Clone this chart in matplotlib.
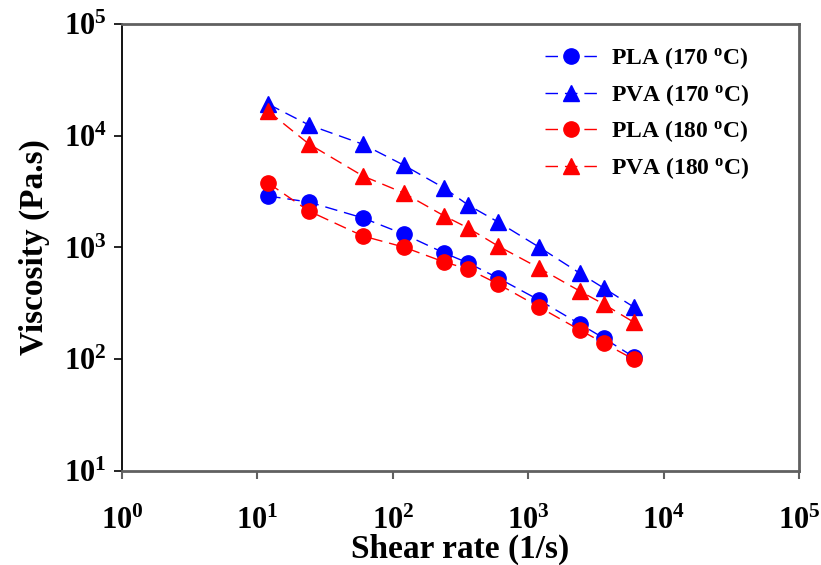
import numpy as np
import matplotlib
matplotlib.use("Agg")
import matplotlib.pyplot as plt
import matplotlib.ticker as mticker

plt.rcParams["font.family"] = "Liberation Serif"
plt.rcParams["font.weight"] = "bold"
plt.rcParams["mathtext.fontset"] = "custom"
plt.rcParams["mathtext.rm"] = "Liberation Serif:bold"
plt.rcParams["mathtext.it"] = "Liberation Serif:bold"
plt.rcParams["mathtext.bf"] = "Liberation Serif:bold"

# shear rate (1/s)
shear = [12, 24, 60, 120, 240, 360, 600, 1200, 2400, 3600, 6000]

# viscosity (Pa.s)
pla_170 = [2890, 2550, 1840, 1320, 893, 727, 533, 339, 207, 155, 105]
pva_170 = [19200, 12500, 8400, 5470, 3400, 2400, 1690, 1010, 590, 435, 294]
pla_180 = [3780, 2120, 1268, 1010, 741, 642, 471, 294, 183, 140, 100]
pva_180 = [16600, 8440, 4370, 3080, 1915, 1495, 1030, 656, 408, 312, 215]

fig = plt.figure(figsize=(8.21, 5.65), dpi=100)
ax = fig.add_axes([0.1486, 0.1664, 0.8246, 0.7911])

dash = (9, 5)
ax.plot(shear, pla_170, "o", ls="--", dashes=dash, color="#0000ff", lw=1, ms=11, label="PLA (170 $^{o}$C)")
ax.plot(shear, pva_170, "^", ls="--", dashes=dash, color="#0000ff", lw=1, ms=11, label="PVA (170 $^{o}$C)")
ax.plot(shear, pla_180, "o", ls="--", dashes=dash, color="#ff0000", lw=1, ms=11, label="PLA (180 $^{o}$C)")
ax.plot(shear, pva_180, "^", ls="--", dashes=dash, color="#ff0000", lw=1, ms=11, label="PVA (180 $^{o}$C)")

ax.set_xscale("log")
ax.set_yscale("log")
ax.set_xlim(1, 1e5)
ax.set_ylim(10, 1e5)

fmt = mticker.FuncFormatter(lambda v, p: "$10^{%d}$" % round(np.log10(v)))
ax.xaxis.set_major_locator(mticker.LogLocator(base=10, numticks=10))
ax.yaxis.set_major_locator(mticker.LogLocator(base=10, numticks=10))
ax.xaxis.set_minor_locator(mticker.NullLocator())
ax.yaxis.set_minor_locator(mticker.NullLocator())
ax.xaxis.set_major_formatter(fmt)
ax.yaxis.set_major_formatter(fmt)

for s in ["top", "right", "bottom"]:
    ax.spines[s].set_color("#606060")
    ax.spines[s].set_linewidth(2)
ax.spines["left"].set_color("black")
ax.spines["left"].set_linewidth(1.3)

ax.tick_params(axis="x", direction="out", length=6, width=1.5, color="#606060", labelsize=22, pad=20)
ax.tick_params(axis="y", direction="out", length=6, width=1.2, color="black", labelsize=22, pad=5)

ax.set_xlabel("Shear rate (1/s)", fontsize=24, fontweight="bold", labelpad=-2)
ax.set_ylabel("Viscosity (Pa.s)", fontsize=24, fontweight="bold", labelpad=10)

ax.legend(loc="upper left", bbox_to_anchor=(0.594, 1.0), frameon=False, fontsize=17,
          handlelength=2.2, labelspacing=0.45, handletextpad=0.6)

fig.savefig("out.png", dpi=100)
